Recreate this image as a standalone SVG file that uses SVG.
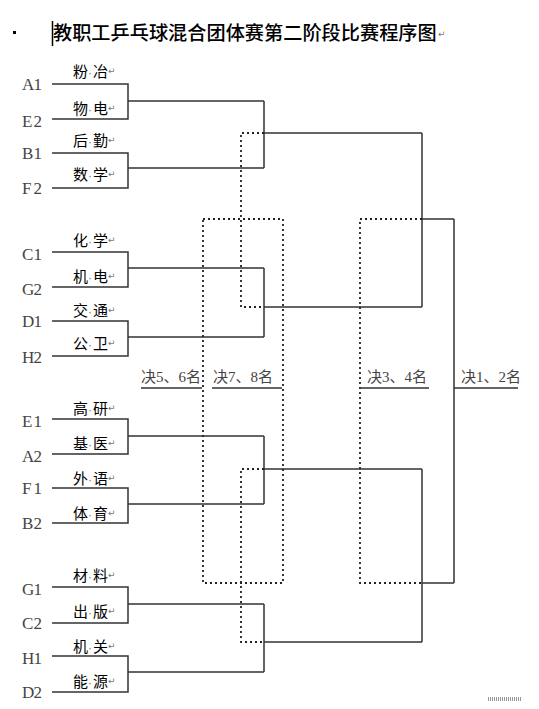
<svg xmlns="http://www.w3.org/2000/svg" width="539" height="709" viewBox="0 0 539 709">
<style>
.ln{fill:none;stroke:#333;stroke-width:1.5}
.dt{fill:none;stroke:#222;stroke-width:1.8;stroke-dasharray:2 3}
.lb{font-family:"Liberation Serif","Noto Sans CJK SC",serif;font-size:17px;fill:#444}
.nm{font-family:"Noto Sans CJK SC",sans-serif;font-size:15px;fill:#000}
.sp{font-family:"Liberation Sans",sans-serif;font-size:12px;fill:#777}
.rt{font-family:"DejaVu Sans",sans-serif;font-size:9px;fill:#777}
.rd{font-family:"Liberation Serif","Noto Sans CJK SC",serif;font-size:15px;fill:#444}
.tt{font-family:"Noto Sans CJK SC",sans-serif;font-size:19.2px;font-weight:500;fill:#000}
</style>
<rect width="539" height="709" fill="#fff"/>
<g id="title">
<rect x="13" y="31" width="3" height="3" fill="#000"/>
<line x1="52.5" y1="21" x2="52.5" y2="46" stroke="#000" stroke-width="1.5"/>
<text class="tt" x="53" y="40">教职工乒乓球混合团体赛第二阶段比赛程序图<tspan class="rt" x="438" y="37">↵</tspan></text>
</g>
<g id="connectors">
<path class="ln" d="M52,84H128V119H52M128,101H264"/>
<path class="ln" d="M52,153H128V188H52M128,168H264"/>
<path class="ln" d="M52,252H128V287H52M128,268H264"/>
<path class="ln" d="M52,321H128V356H52M128,337H264"/>
<path class="ln" d="M52,419H128V454H52M128,436H264"/>
<path class="ln" d="M52,488H128V523H52M128,504H264"/>
<path class="ln" d="M52,587H128V623H52M128,604H264"/>
<path class="ln" d="M52,656H128V692H52M128,672H264"/>
<path class="ln" d="M264,101V168M264,133H422"/>
<path class="ln" d="M264,268V337M264,307H422"/>
<path class="ln" d="M264,436V504M264,469H422"/>
<path class="ln" d="M264,604V672M264,642H422"/>
<path class="ln" d="M422,133V307M422,219H454"/>
<path class="ln" d="M422,469V642M422,583H454"/>
<path class="ln" d="M454,219V583M454,388H518"/>
<path class="dt" d="M264,133H241V307H264"/>
<path class="dt" d="M264,469H241V642H264"/>
<rect class="dt" x="203" y="219" width="80" height="364"/>
<path class="dt" d="M422,219H360V583H422"/>
<path class="ln" d="M141,388H202M212,388H282M360,388H429"/>
<path d="M488,698H521M488,700H521" stroke="#333" stroke-width="1" stroke-dasharray="1 1"/>
</g>
<g id="round-labels">
<text class="rd" x="141" y="382">决5、6名</text>
<text class="rd" x="213" y="382">决7、8名</text>
<text class="rd" x="367" y="382">决3、4名</text>
<text class="rd" x="461" y="382">决1、2名</text>
</g>
<g id="team-A1"><text class="lb" x="22" y="90" textLength="20">A1</text><text class="nm" y="77"><tspan x="73">粉</tspan><tspan class="sp" x="88">·</tspan><tspan x="93">冶</tspan><tspan class="rt" x="108" y="74">↵</tspan></text></g>
<g id="team-E2"><text class="lb" x="22" y="127" textLength="20">E2</text><text class="nm" y="114"><tspan x="73">物</tspan><tspan class="sp" x="88">·</tspan><tspan x="93">电</tspan><tspan class="rt" x="108" y="111">↵</tspan></text></g>
<g id="team-B1"><text class="lb" x="22" y="159" textLength="20">B1</text><text class="nm" y="146"><tspan x="73">后</tspan><tspan class="sp" x="88">·</tspan><tspan x="93">勤</tspan><tspan class="rt" x="108" y="143">↵</tspan></text></g>
<g id="team-F2"><text class="lb" x="22" y="194" textLength="20">F2</text><text class="nm" y="180"><tspan x="73">数</tspan><tspan class="sp" x="88">·</tspan><tspan x="93">学</tspan><tspan class="rt" x="108" y="177">↵</tspan></text></g>
<g id="team-C1"><text class="lb" x="22" y="260" textLength="20">C1</text><text class="nm" y="246"><tspan x="73">化</tspan><tspan class="sp" x="88">·</tspan><tspan x="93">学</tspan><tspan class="rt" x="108" y="243">↵</tspan></text></g>
<g id="team-G2"><text class="lb" x="22" y="295" textLength="20">G2</text><text class="nm" y="282"><tspan x="73">机</tspan><tspan class="sp" x="88">·</tspan><tspan x="93">电</tspan><tspan class="rt" x="108" y="279">↵</tspan></text></g>
<g id="team-D1"><text class="lb" x="22" y="327" textLength="20">D1</text><text class="nm" y="316"><tspan x="73">交</tspan><tspan class="sp" x="88">·</tspan><tspan x="93">通</tspan><tspan class="rt" x="108" y="313">↵</tspan></text></g>
<g id="team-H2"><text class="lb" x="22" y="363" textLength="20">H2</text><text class="nm" y="349"><tspan x="73">公</tspan><tspan class="sp" x="88">·</tspan><tspan x="93">卫</tspan><tspan class="rt" x="108" y="346">↵</tspan></text></g>
<g id="team-E1"><text class="lb" x="22" y="427" textLength="20">E1</text><text class="nm" y="414"><tspan x="73">高</tspan><tspan class="sp" x="88">·</tspan><tspan x="93">研</tspan><tspan class="rt" x="108" y="411">↵</tspan></text></g>
<g id="team-A2"><text class="lb" x="22" y="462" textLength="20">A2</text><text class="nm" y="449"><tspan x="73">基</tspan><tspan class="sp" x="88">·</tspan><tspan x="93">医</tspan><tspan class="rt" x="108" y="446">↵</tspan></text></g>
<g id="team-F1"><text class="lb" x="22" y="494" textLength="20">F1</text><text class="nm" y="484"><tspan x="73">外</tspan><tspan class="sp" x="88">·</tspan><tspan x="93">语</tspan><tspan class="rt" x="108" y="481">↵</tspan></text></g>
<g id="team-B2"><text class="lb" x="22" y="529" textLength="20">B2</text><text class="nm" y="519"><tspan x="73">体</tspan><tspan class="sp" x="88">·</tspan><tspan x="93">育</tspan><tspan class="rt" x="108" y="516">↵</tspan></text></g>
<g id="team-G1"><text class="lb" x="22" y="595" textLength="20">G1</text><text class="nm" y="581"><tspan x="73">材</tspan><tspan class="sp" x="88">·</tspan><tspan x="93">料</tspan><tspan class="rt" x="108" y="578">↵</tspan></text></g>
<g id="team-C2"><text class="lb" x="22" y="629" textLength="20">C2</text><text class="nm" y="617"><tspan x="73">出</tspan><tspan class="sp" x="88">·</tspan><tspan x="93">版</tspan><tspan class="rt" x="108" y="614">↵</tspan></text></g>
<g id="team-H1"><text class="lb" x="22" y="664" textLength="20">H1</text><text class="nm" y="652"><tspan x="73">机</tspan><tspan class="sp" x="88">·</tspan><tspan x="93">关</tspan><tspan class="rt" x="108" y="649">↵</tspan></text></g>
<g id="team-D2"><text class="lb" x="22" y="698" textLength="20">D2</text><text class="nm" y="687"><tspan x="73">能</tspan><tspan class="sp" x="88">·</tspan><tspan x="93">源</tspan><tspan class="rt" x="108" y="684">↵</tspan></text></g>
</svg>
